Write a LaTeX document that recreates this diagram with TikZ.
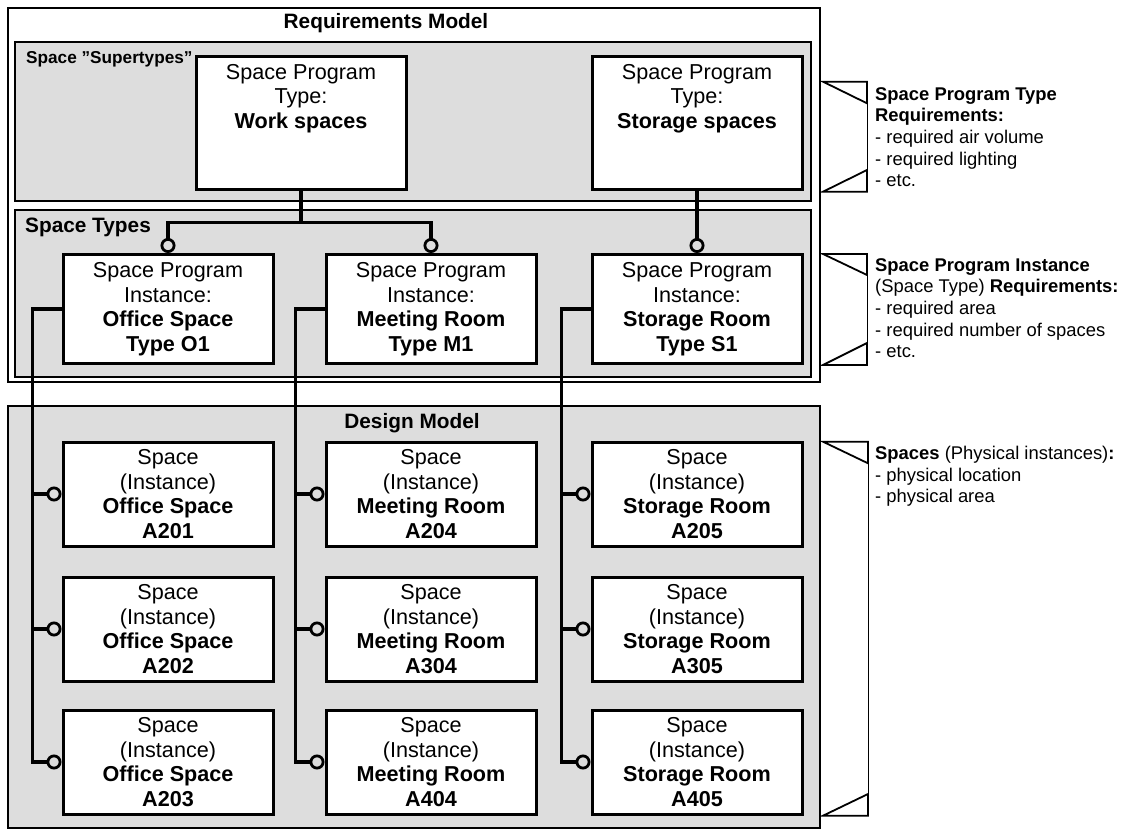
\documentclass[tikz,border=0pt]{standalone}
\usepackage{fontspec}
\setmainfont{Liberation Sans}
\usetikzlibrary{arrows.meta}
\definecolor{panelgray}{RGB}{221,221,221}
\pgfdeclarelayer{panels}
\pgfdeclarelayer{links}
\pgfsetlayers{panels,links,main}
\begin{document}
\begin{tikzpicture}[x=1pt,y=-1pt,
  frame/.style={draw=black, line width=1.8pt},
  panel/.style={draw=black, fill=panelgray, line width=1.8pt},
  box/.style={draw=black, fill=white, line width=3pt, inner sep=0pt,
              minimum width=210pt, align=center,
              font=\fontsize{21.6}{24.5}\selectfont},
  boxtext/.style={align=center, inner sep=0pt, anchor=north,
              font=\fontsize{21.6}{24.5}\selectfont},
  heading/.style={inner sep=0pt, font=\fontsize{20.8}{24}\selectfont\bfseries},
  link/.style={draw=black, line width=3.2pt},
  ring/.style={-{Circle[open, length=15pt, width=15pt, line width=2.8pt]}},
  bracket/.style={draw=black, line width=1.8pt},
  thinline/.style={draw=black, line width=0.7pt},
  note/.style={align=left, anchor=north west, inner sep=0pt,
              font=\fontsize{18.4}{21.7}\selectfont},
]
\useasboundingbox (0,0) rectangle (1128,832);

% requirements model frame and its two panels
\begin{pgfonlayer}{panels}
\draw[frame] (8,8) rectangle (820,382);
\draw[panel] (15,41.7) rectangle (811,200.7);
\draw[panel] (15,210) rectangle (811,377);
% design model panel
\draw[panel] (8,406) rectangle (820,828);
\end{pgfonlayer}
\node[heading] (reqtitle) at (386,23) {Requirements Model};
\node[heading, anchor=west, font=\fontsize{17.2}{20}\selectfont\bfseries] (supertitle) at (26,59) {Space ”Supertypes”};
\node[heading, anchor=west] (typetitle) at (25,227) {Space Types};
\node[heading] (designtitle) at (412,423) {Design Model};

% junction above the work space types
\coordinate (j1) at (301,222.7);

% supertypes
\node[box, minimum height=133pt] (ws) at (301,123) {};
\node[boxtext] (wst) at (301,64) {Space Program\\Type:\\\textbf{Work spaces}};
\node[box, minimum height=133pt] (ss) at (697,123) {};
\node[boxtext] (sst) at (697,64) {Space Program\\Type:\\\textbf{Storage spaces}};

% space types
\node[box, minimum height=109pt] (o1) at (168,309) {Space Program\\Instance:\\\textbf{Office Space}\\\textbf{Type O1}};
\node[box, minimum height=109pt] (m1) at (431,309) {Space Program\\Instance:\\\textbf{Meeting Room}\\\textbf{Type M1}};
\node[box, minimum height=109pt] (s1) at (697,309) {Space Program\\Instance:\\\textbf{Storage Room}\\\textbf{Type S1}};

% physical spaces
\node[box, minimum height=104pt] (a1) at (168,494) {Space\\(Instance)\\\textbf{Office Space}\\\textbf{A201}};
\node[box, minimum height=104pt] (a2) at (168,629) {Space\\(Instance)\\\textbf{Office Space}\\\textbf{A202}};
\node[box, minimum height=104pt] (a3) at (168,762) {Space\\(Instance)\\\textbf{Office Space}\\\textbf{A203}};
\node[box, minimum height=104pt] (b1) at (431,494) {Space\\(Instance)\\\textbf{Meeting Room}\\\textbf{A204}};
\node[box, minimum height=104pt] (b2) at (431,629) {Space\\(Instance)\\\textbf{Meeting Room}\\\textbf{A304}};
\node[box, minimum height=104pt] (b3) at (431,762) {Space\\(Instance)\\\textbf{Meeting Room}\\\textbf{A404}};
\node[box, minimum height=104pt] (c1) at (697,494) {Space\\(Instance)\\\textbf{Storage Room}\\\textbf{A205}};
\node[box, minimum height=104pt] (c2) at (697,629) {Space\\(Instance)\\\textbf{Storage Room}\\\textbf{A305}};
\node[box, minimum height=104pt] (c3) at (697,762) {Space\\(Instance)\\\textbf{Storage Room}\\\textbf{A405}};

% connectors between levels, kept beneath the boxes
\begin{pgfonlayer}{links}
\draw[link, ring] (ws.south) -- (j1) -| (o1.north);
\draw[link, ring] (ws.south) -- (j1) -| (m1.north);
\draw[link, ring] (ss.south) -- (s1.north);
\foreach \src/\dst in {o1/a, m1/b, s1/c}{
  \foreach \row in {1,2,3}{
    \draw[link, ring] (\src.west) -- ++(-29,0) |- (\dst\row.west);
  }
}
\end{pgfonlayer}

% annotation brackets
\draw[bracket] (823,81.7) -- (867,81.7) -- (867,103.3) -- cycle;
\draw[thinline] (867,103.3) -- (867,170);
\draw[bracket] (823,191.7) -- (867,191.7) -- (867,170) -- cycle;
\node[note] (n1) at (875,87) {\textbf{Space Program Type}\\\textbf{Requirements:}\\- required air volume\\- required lighting\\- etc.};

\draw[bracket] (823,254) -- (867,254) -- (867,275) -- cycle;
\draw[thinline] (867,275) -- (867,343);
\draw[bracket] (823,365) -- (867,365) -- (867,343) -- cycle;
\node[note] (n2) at (875,258) {\textbf{Space Program Instance}\\(Space Type) \textbf{Requirements:}\\- required area\\- required number of spaces\\- etc.};

\draw[bracket] (823,441.7) -- (868,441.7) -- (868,463.3) -- cycle;
\draw[thinline] (868,463.3) -- (868,794);
\draw[bracket] (823,815.7) -- (868,815.7) -- (868,794) -- cycle;
\node[note] (n3) at (875,446) {\textbf{Spaces} (Physical instances)\textbf{:}\\- physical location\\- physical area};
\end{tikzpicture}
\end{document}
